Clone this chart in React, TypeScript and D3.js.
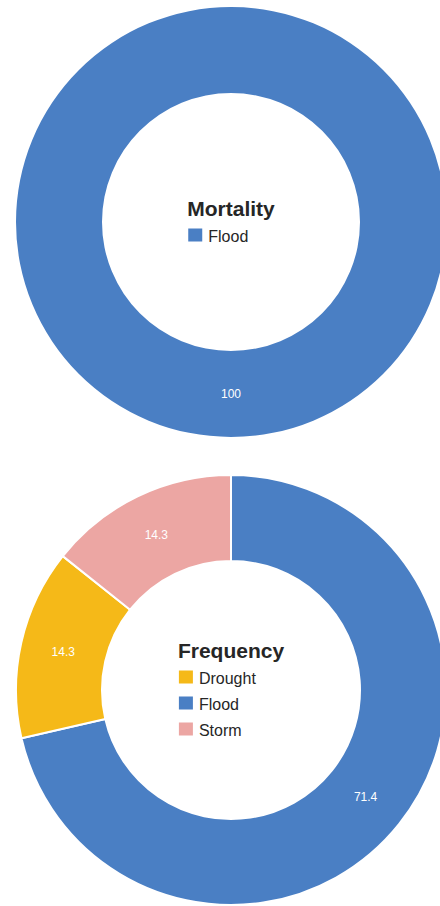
import React, { useEffect, useRef } from "react";
import * as d3 from "d3";

const mortalityCategories = ["Flood"];
const mortalityValues = [100];
const frequencyCategories = ["Flood", "Drought", "Storm"];
const frequencyValues = [71.4, 14.3, 14.3];
const legendOrder = ["Drought", "Flood", "Storm"];
const titles = ["Mortality", "Frequency"];

const colors: Record<string, string> = {
  Flood: "#4a7fc4",
  Drought: "#f5b918",
  Storm: "#eca6a3",
};

const W = 440;
const H = 906;
const FONT = "'Liberation Sans', Arial, Helvetica, sans-serif";

export default function App() {
  const ref = useRef<SVGSVGElement | null>(null);

  useEffect(() => {
    const svg = d3.select(ref.current);
    svg.selectAll("*").remove();

    const charts = [
      { title: titles[0], cats: mortalityCategories, vals: mortalityValues, cx: 231, cy: 222 },
      { title: titles[1], cats: frequencyCategories, vals: frequencyValues, cx: 231, cy: 690 },
    ];

    const outerR = 215;
    const innerR = 129;

    charts.forEach((c) => {
      const data = c.cats.map((k, i) => ({ key: k, value: c.vals[i] }));
      const pie = d3
        .pie<{ key: string; value: number }>()
        .sort(null)
        .value((d) => d.value);
      const arcs = pie(data);
      const arc = d3
        .arc<d3.PieArcDatum<{ key: string; value: number }>>()
        .innerRadius(innerR)
        .outerRadius(outerR);

      const g = svg.append("g").attr("transform", `translate(${c.cx},${c.cy})`);
      g.selectAll("path.slice")
        .data(arcs)
        .join("path")
        .attr("class", "slice")
        .attr("d", arc as any)
        .attr("fill", (d) => colors[d.data.key])
        .attr("stroke", data.length > 1 ? "#fff" : "none")
        .attr("stroke-width", 2)
        .attr("stroke-linejoin", "round");

      g.selectAll("text.lbl")
        .data(arcs)
        .join("text")
        .attr("class", "lbl")
        .attr("transform", (d) => {
          const [x, y] = arc.centroid(d);
          return `translate(${x},${y})`;
        })
        .attr("text-anchor", "middle")
        .attr("dy", "0.35em")
        .attr("fill", "#fff")
        .attr("font-family", FONT)
        .attr("font-size", 12)
        .text((d) => String(d.data.value));

      // Title and legend in the hole
      const legendKeys = legendOrder.filter((k) => c.cats.includes(k));
      const n = legendKeys.length;
      const capH = 15;
      const rowH = 26;
      const blockH = capH + rowH * n;
      const titleBaseline = -blockH / 2 + capH - 1;

      const title = g
        .append("text")
        .attr("x", 0)
        .attr("y", titleBaseline)
        .attr("text-anchor", "middle")
        .attr("font-family", FONT)
        .attr("font-size", 21)
        .attr("font-weight", "bold")
        .attr("fill", "#262626")
        .text(c.title);

      const tw = (title.node() as SVGTextElement).getComputedTextLength();
      const left = -tw / 2;

      legendKeys.forEach((k, i) => {
        const by = titleBaseline + rowH * (i + 1);
        g.append("rect")
          .attr("x", left + 1)
          .attr("y", by - 13)
          .attr("width", 14)
          .attr("height", 13)
          .attr("fill", colors[k]);
        g.append("text")
          .attr("x", left + 21)
          .attr("y", by)
          .attr("font-family", FONT)
          .attr("font-size", 16)
          .attr("fill", "#262626")
          .text(k);
      });
    });
  }, []);

  return (
    <svg
      ref={ref}
      width={W}
      height={H}
      style={{ position: "absolute", left: 0, top: 0, background: "#fff" }}
    />
  );
}
